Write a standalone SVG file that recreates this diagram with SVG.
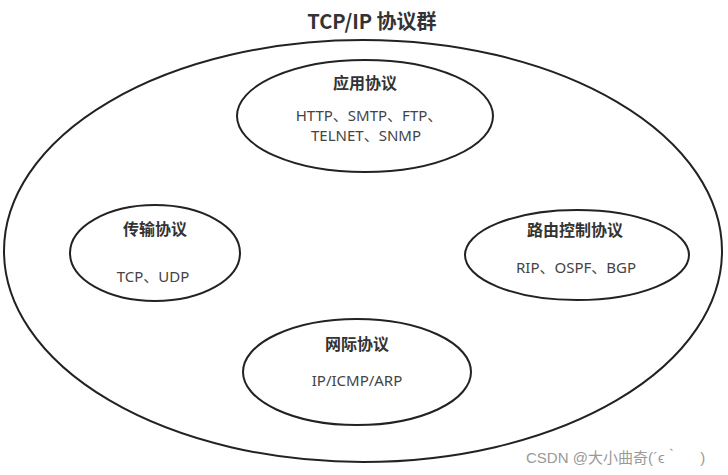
<svg xmlns="http://www.w3.org/2000/svg" width="728" height="475" viewBox="0 0 728 475">
<style>
.e{fill:none;stroke:#222;stroke-width:2}
.h{font-family:"Noto Sans CJK SC","Noto Sans",sans-serif;font-weight:bold;font-size:16px;fill:#333;text-anchor:middle}
.t{font-family:"Noto Sans","Noto Sans CJK SC",sans-serif;font-size:15px;fill:#444;text-anchor:middle}
</style>
<rect width="728" height="475" fill="#fff"/>
<g id="outer">
<ellipse class="e" cx="363" cy="251" rx="359" ry="211"/>
<text x="372" y="29" class="h" style="font-size:20px">TCP/IP 协议群</text>
</g>
<g id="app">
<ellipse class="e" cx="365" cy="116" rx="128" ry="56"/>
<text x="365" y="89" class="h">应用协议</text>
<text x="369" y="121" class="t">HTTP、SMTP、FTP、</text>
<text x="366" y="141" class="t">TELNET、SNMP</text>
</g>
<g id="transport">
<ellipse class="e" cx="155" cy="253" rx="85" ry="48"/>
<text x="155" y="235" class="h">传输协议</text>
<text x="153" y="282" class="t">TCP、UDP</text>
</g>
<g id="routing">
<ellipse class="e" cx="577" cy="255" rx="112" ry="45"/>
<text x="575" y="236" class="h">路由控制协议</text>
<text x="576" y="273" class="t">RIP、OSPF、BGP</text>
</g>
<g id="network">
<ellipse class="e" cx="357" cy="372" rx="114" ry="53"/>
<text x="357" y="350" class="h">网际协议</text>
<text x="357" y="386" class="t">IP/ICMP/ARP</text>
</g>
<g id="connectors"></g>
<text x="526" y="463" xml:space="preserve" style="font-family:'Liberation Sans','Noto Sans CJK SC',sans-serif;font-size:15px;fill:#999">CSDN @大小曲奇(´ϵ｀     )</text>
</svg>
